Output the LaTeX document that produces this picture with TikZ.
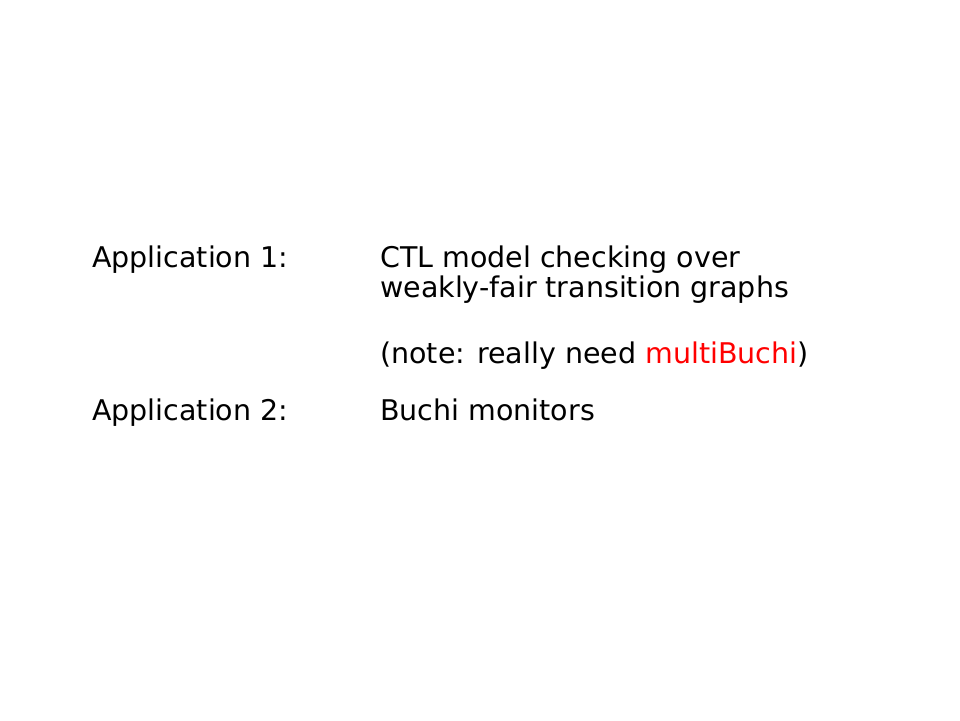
\documentclass[tikz,border=0pt]{standalone}
\usepackage{fontspec}
\setmainfont{DejaVu Sans}
\begin{document}
\begin{tikzpicture}[x=1pt,y=-1pt,
  txt/.style={anchor=base west,inner sep=0pt,font=\fontsize{28.5}{34}\selectfont}]
\useasboundingbox[fill=white] (0,0) rectangle (960,720);
\node[txt] (app1) at (92,267) {Application 1:};
\node[txt] (ctl) at (380,267) {CTL model checking over};
\node[txt] (weak) at (380,297) {weakly-fair transition graphs};
\node[txt] (note) at (380,363) {(note: really need \textcolor{red}{multiBuchi})};
\node[txt] (app2) at (92,420) {Application 2:};
\node[txt] (buchi) at (380,420) {Buchi monitors};
\end{tikzpicture}
\end{document}
